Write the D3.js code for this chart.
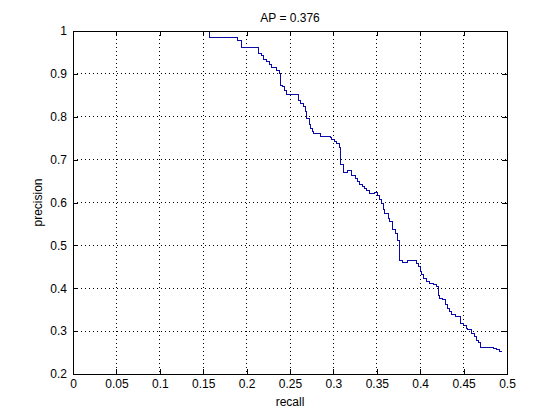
<!DOCTYPE html>
<html>
<head>
<meta charset="utf-8">
<script src="https://cdn.jsdelivr.net/npm/d3@7"></script>
<style>
  body { margin: 0; background: #fff; }
  text { font-family: "Liberation Sans", Arial, Helvetica, sans-serif; fill: #000; }
</style>
</head>
<body>
<div id="chart"></div>
<script>
// precision / recall corner points
var recall = [0.1578, 0.1578, 0.1893, 0.1939, 0.2135, 0.2166, 0.2192, 0.2224, 0.2262, 0.2289,
  0.2339, 0.2377, 0.2396, 0.2416, 0.2442, 0.2462, 0.2596, 0.2623, 0.2653, 0.2673,
  0.2692, 0.2719, 0.2738, 0.2757, 0.2776, 0.2846, 0.2961, 0.2980, 0.3007, 0.3038,
  0.3068, 0.3084, 0.3114, 0.3168, 0.3211, 0.3249, 0.3275, 0.3306, 0.3338, 0.3364,
  0.3384, 0.3414, 0.3441, 0.3479, 0.3506, 0.3529, 0.3556, 0.3575, 0.3594, 0.3632,
  0.3652, 0.3683, 0.3710, 0.3736, 0.3759, 0.3798, 0.3848, 0.3917, 0.3952, 0.3978,
  0.3998, 0.4017, 0.4036, 0.4067, 0.4105, 0.4151, 0.4190, 0.4209, 0.4228, 0.4259,
  0.4286, 0.4312, 0.4335, 0.4363, 0.4401, 0.4459, 0.4467, 0.4497, 0.4528, 0.4547,
  0.4593, 0.4623, 0.4643, 0.4669, 0.4689, 0.4785, 0.4842, 0.4881, 0.4911, 0.4939];
var precision = [1.000, 0.984, 0.979, 0.962, 0.948, 0.942, 0.934, 0.928, 0.921, 0.914,
  0.909, 0.901, 0.874, 0.870, 0.862, 0.852, 0.839, 0.831, 0.823, 0.812,
  0.796, 0.781, 0.773, 0.765, 0.760, 0.755, 0.752, 0.747, 0.742, 0.738,
  0.729, 0.6875, 0.671, 0.675, 0.664, 0.656, 0.649, 0.641, 0.637, 0.633,
  0.629, 0.621, 0.620, 0.623, 0.617, 0.607, 0.598, 0.583, 0.575, 0.563,
  0.555, 0.536, 0.528, 0.5125, 0.465, 0.461, 0.464, 0.465, 0.458, 0.450,
  0.439, 0.431, 0.423, 0.415, 0.4115, 0.4076, 0.4036, 0.384, 0.377, 0.373,
  0.361, 0.353, 0.345, 0.338, 0.335, 0.330, 0.318, 0.314, 0.307, 0.303,
  0.295, 0.287, 0.279, 0.273, 0.262, 0.261, 0.260, 0.258, 0.252, 0.252];

var xTicks = [0, 0.05, 0.1, 0.15, 0.2, 0.25, 0.3, 0.35, 0.4, 0.45, 0.5];
var yTicks = [0.2, 0.3, 0.4, 0.5, 0.6, 0.7, 0.8, 0.9, 1];
var apText = "AP = 0.376";

var margin = {top: 31, right: 53, bottom: 46, left: 73},
    width = 560 - margin.left - margin.right,
    height = 420 - margin.top - margin.bottom,
    tickLen = 5;

var x = d3.scaleLinear().domain([0, 0.5]).range([0, width]),
    y = d3.scaleLinear().domain([0.2, 1]).range([height, 0]);

var svg = d3.select("#chart").append("svg")
    .attr("width", 560)
    .attr("height", 420);

svg.append("rect").attr("width", 560).attr("height", 420).attr("fill", "#fff");

var g = svg.append("g")
    .attr("transform", "translate(" + margin.left + "," + margin.top + ")");

// dotted grid
g.append("g").attr("class", "grid")
  .selectAll("line.gx").data(xTicks.slice(1, -1)).enter().append("line")
    .attr("x1", function(d) { return x(d); })
    .attr("x2", function(d) { return x(d); })
    .attr("y1", 0).attr("y2", height);
g.select("g.grid")
  .selectAll("line.gy").data(yTicks.slice(1, -1)).enter().append("line")
    .attr("y1", function(d) { return y(d); })
    .attr("y2", function(d) { return y(d); })
    .attr("x1", 0).attr("x2", width);
g.selectAll("g.grid line")
    .attr("stroke", "#000")
    .attr("stroke-width", 1)
    .attr("stroke-dasharray", "1,3")
    .attr("shape-rendering", "crispEdges");

// the curve
var line = d3.line()
    .x(function(d) { return x(d[0]); })
    .y(function(d) { return y(d[1]); })
    .curve(d3.curveStepAfter);

g.append("path")
    .datum(d3.zip(recall, precision))
    .attr("fill", "none")
    .attr("stroke", "#0a0aa8")
    .attr("stroke-width", 1)
    .attr("shape-rendering", "crispEdges")
    .attr("d", line);

// axes, ticks pointing inward
var fmt = function(d) { return String(d); };

g.append("g").attr("class", "axis")
    .attr("transform", "translate(0," + height + ")")
    .call(d3.axisBottom(x).tickValues(xTicks).tickFormat(fmt)
      .tickSizeInner(-tickLen).tickSizeOuter(0).tickPadding(5));

g.append("g").attr("class", "axis")
    .call(d3.axisLeft(y).tickValues(yTicks).tickFormat(fmt)
      .tickSizeInner(-tickLen).tickSizeOuter(0).tickPadding(6));

g.append("g").attr("class", "axis")
    .call(d3.axisTop(x).tickValues(xTicks).tickFormat("")
      .tickSizeInner(-tickLen).tickSizeOuter(0));

g.append("g").attr("class", "axis")
    .attr("transform", "translate(" + width + ",0)")
    .call(d3.axisRight(y).tickValues(yTicks).tickFormat("")
      .tickSizeInner(-tickLen).tickSizeOuter(0));

g.selectAll(".axis path, .axis line")
    .attr("stroke", "#000")
    .attr("shape-rendering", "crispEdges");
g.selectAll(".axis text")
    .attr("fill", "#000")
    .style("font-size", "12px")
    .style("font-family", "'Liberation Sans', Arial, sans-serif");

// labels
svg.append("text")
    .attr("x", margin.left + width / 2)
    .attr("y", 22)
    .attr("text-anchor", "middle")
    .style("font-size", "12px")
    .text(apText);

svg.append("text")
    .attr("x", margin.left + width / 2)
    .attr("y", 406)
    .attr("text-anchor", "middle")
    .style("font-size", "12px")
    .text("recall");

svg.append("text")
    .attr("transform", "translate(42," + (margin.top + height / 2) + ") rotate(-90)")
    .attr("text-anchor", "middle")
    .style("font-size", "12px")
    .text("precision");
</script>
</body>
</html>
